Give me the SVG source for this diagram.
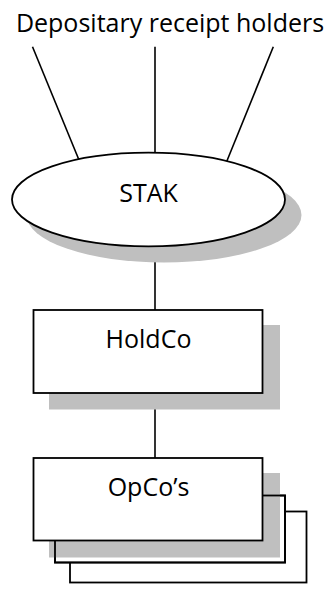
<svg xmlns="http://www.w3.org/2000/svg" width="332" height="595" viewBox="0 0 332 595">
  <style>
    .lbl { font-family: "Open Sans", "Liberation Sans", sans-serif; font-size: 25px; fill: #000; text-anchor: middle; }
    .edge { stroke: #000; stroke-width: 1.6; fill: none; }
    .box { fill: #fff; stroke: #000; stroke-width: 1.8; }
    .outline { fill: none; stroke: #000; stroke-width: 1.8; }
    .shadow { fill: #bfbfbf; stroke: none; }
  </style>
  <rect width="332" height="595" fill="#fff"/>

  <!-- connectors -->
  <g id="connectors">
    <line class="edge" x1="32.5" y1="46.7" x2="79" y2="160"/>
    <line class="edge" x1="155" y1="46.7" x2="155" y2="156"/>
    <line class="edge" x1="273.3" y1="46.7" x2="226.5" y2="162"/>
    <line class="edge" x1="155" y1="240" x2="155" y2="312"/>
    <line class="edge" x1="155" y1="390" x2="155" y2="460"/>
  </g>

  <!-- top label -->
  <g id="holders">
    <text class="lbl" x="170" y="32">Depositary receipt holders</text>
  </g>

  <!-- STAK foundation -->
  <g id="stak">
    <ellipse class="shadow" cx="164" cy="215" rx="137.5" ry="47.5"/>
    <ellipse class="box" cx="148.5" cy="199.5" rx="136.5" ry="46.8"/>
    <text class="lbl" x="148.5" y="201.5">STAK</text>
  </g>

  <!-- holding company -->
  <g id="holdco">
    <rect class="shadow" x="49" y="325" width="231" height="84.5"/>
    <rect class="box" x="33.5" y="310" width="229" height="83"/>
    <text class="lbl" x="148.5" y="347.5">HoldCo</text>
  </g>

  <!-- operating companies (stacked) -->
  <g id="opcos">
    <rect class="box" x="70" y="511.5" width="236.5" height="71"/>
    <rect class="box" x="55" y="495.5" width="230" height="67"/>
    <rect class="shadow" x="49" y="473" width="231" height="84.5"/>
    <rect class="outline" x="55" y="495.5" width="230" height="67"/>
    <rect class="box" x="33.5" y="458" width="229" height="82.5"/>
    <text class="lbl" x="148.5" y="496">OpCo’s</text>
  </g>
</svg>
